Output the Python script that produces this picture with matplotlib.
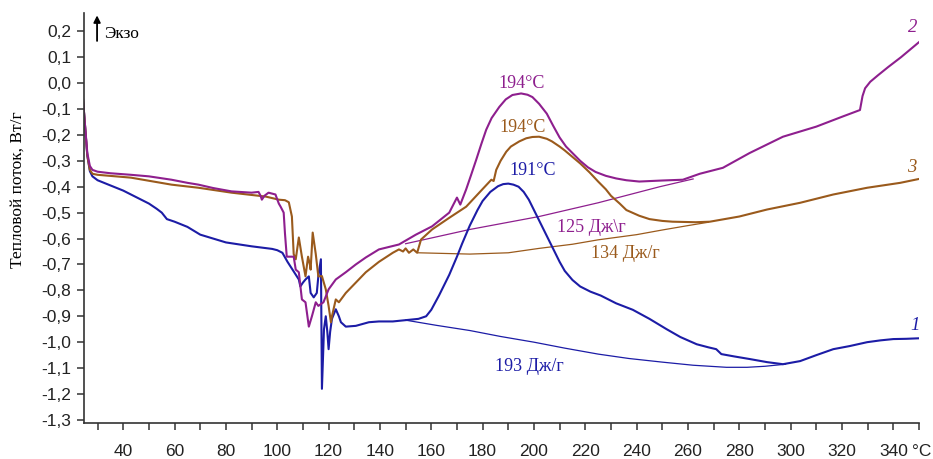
import matplotlib
matplotlib.use("Agg")
import matplotlib.pyplot as plt
from matplotlib.ticker import FixedLocator, FuncFormatter

# ---- data ----
T1 = [24, 25, 26, 27, 28, 30, 35, 40, 45, 50, 53, 55, 57, 60, 65, 70, 75, 80, 90, 98,
      100, 102, 104, 106.4, 108.4, 109, 110, 111, 112.3, 113, 114.2, 115.4, 116, 117, 117.4,
      118.2, 118.9, 119.5, 120, 120.6, 121.3, 122.8, 124, 124.8, 126.7, 130.6, 135.7, 139.6,
      145, 150, 155, 158, 160, 163, 165, 167, 170, 172, 175, 178, 180, 183, 186, 188, 190,
      192, 194, 196, 198, 200, 202, 204, 206, 208, 210, 212, 215, 218, 222, 226, 232, 238.5,
      245, 251.7, 257, 263.4, 268, 271, 273, 278, 284, 290.8, 297, 303.7, 310, 316.6, 323,
      329.8, 335, 340, 345, 350]
Q1 = [-0.02, -0.15, -0.28, -0.34, -0.36, -0.375, -0.395, -0.415, -0.44, -0.465, -0.485, -0.50,
      -0.525, -0.535, -0.555, -0.585, -0.60, -0.615, -0.63, -0.64,
      -0.645, -0.655, -0.69, -0.727, -0.758, -0.785, -0.77, -0.758, -0.746, -0.81, -0.827, -0.81,
      -0.746, -0.68, -1.18, -0.95, -0.90, -0.96, -1.027, -0.96, -0.91, -0.873, -0.90, -0.923,
      -0.94, -0.937, -0.923, -0.92, -0.92, -0.915, -0.91, -0.90, -0.875, -0.82, -0.78, -0.74,
      -0.67, -0.62, -0.55, -0.49, -0.455, -0.42, -0.398, -0.39, -0.388, -0.392, -0.40, -0.42,
      -0.45, -0.49, -0.53, -0.57, -0.61, -0.65, -0.69, -0.725, -0.76, -0.785, -0.805, -0.82,
      -0.85, -0.875, -0.91, -0.95, -0.98, -1.008, -1.02, -1.027, -1.046, -1.055, -1.065,
      -1.077, -1.085, -1.073, -1.05, -1.027, -1.015, -1.0, -0.993, -0.988, -0.987, -0.985]

T2 = [24, 25, 26, 27, 28, 30, 35, 43, 50, 58.8, 65, 69.3, 75, 82.2, 90, 92.7, 93.5, 94, 95,
      96.6, 99.3, 100.6, 101.3, 102.5, 103, 103.7, 106.4, 107.2, 108.4, 109.6, 111, 112.3,
      113.5, 115, 116, 118, 120, 122.8, 126.7, 130.6, 134.5, 139.6, 147.4, 154, 160.3, 167,
      170, 171.3, 173.6, 175.5, 177.5, 179.5, 181.4, 183.5, 186.5, 189, 191.6, 195, 197.5,
      199.4, 202, 205, 207.5, 210, 212.5, 215, 218, 221, 224, 228, 232, 236, 241, 250, 258,
      264.6, 273.6, 284, 297, 310, 320, 327, 328, 329, 331, 334, 338, 343, 350]
Q2 = [-0.02, -0.15, -0.27, -0.32, -0.335, -0.342, -0.348, -0.354, -0.36, -0.373, -0.385,
      -0.392, -0.405, -0.418, -0.423, -0.42, -0.435, -0.45, -0.435, -0.423, -0.43, -0.465,
      -0.477, -0.50, -0.58, -0.67, -0.67, -0.72, -0.73, -0.835, -0.846, -0.94, -0.90, -0.846,
      -0.86, -0.846, -0.796, -0.758, -0.73, -0.70, -0.673, -0.642, -0.623, -0.585, -0.553,
      -0.50, -0.442, -0.469, -0.41, -0.355, -0.296, -0.235, -0.18, -0.135, -0.092, -0.063,
      -0.046, -0.04, -0.045, -0.054, -0.08, -0.118, -0.165, -0.21, -0.245, -0.27, -0.30,
      -0.325, -0.343, -0.358, -0.368, -0.375, -0.38, -0.376, -0.373, -0.35, -0.327, -0.27,
      -0.207, -0.168, -0.13, -0.104, -0.05, -0.02, 0.005, 0.03, 0.062, 0.10, 0.158]

T3 = [24, 25, 26, 27, 28, 30, 43, 50, 58.8, 69.3, 82.2, 95.5, 100.6, 103, 104.5, 105.7, 106.4,
      107.2, 108.4, 109.6, 111, 112, 112.7, 113, 113.8, 115, 116, 117.4, 118.9, 120, 120.9,
      121.3, 122.8, 124, 126.7, 130.6, 134.5, 139.6, 145, 147.4, 149, 150, 151.3, 153, 154.5,
      156, 160.3, 167, 173.6, 179.9, 183.4, 184.3, 185.3, 187, 189.2, 191, 194.3, 197, 199.4,
      202, 205, 207, 210, 212, 215, 218, 221.7, 225, 228, 230, 233.4, 236, 241, 245, 250, 254,
      263, 268.5, 280, 290.8, 303.7, 316.6, 329.8, 342.7, 350]
Q3 = [-0.02, -0.15, -0.28, -0.335, -0.35, -0.354, -0.365, -0.377, -0.392, -0.404, -0.423,
      -0.438, -0.45, -0.452, -0.46, -0.515, -0.66, -0.68, -0.596, -0.67, -0.746, -0.67, -0.70,
      -0.72, -0.577, -0.66, -0.746, -0.745, -0.796, -0.86, -0.923, -0.90, -0.835, -0.846, -0.81,
      -0.77, -0.73, -0.69, -0.655, -0.642, -0.65, -0.638, -0.655, -0.642, -0.655, -0.604,
      -0.565, -0.52, -0.477, -0.41, -0.373, -0.378, -0.335, -0.30, -0.265, -0.245, -0.225,
      -0.213, -0.208, -0.207, -0.215, -0.225, -0.245, -0.26, -0.285, -0.31, -0.345, -0.38,
      -0.41, -0.435, -0.465, -0.49, -0.512, -0.525, -0.532, -0.535, -0.537, -0.535, -0.515,
      -0.488, -0.462, -0.43, -0.404, -0.385, -0.37]

# integration baselines
B1_T = [150, 162, 175, 187, 200, 212, 225, 237, 250, 262, 275, 283, 290, 298]
B1_Q = [-0.915, -0.935, -0.955, -0.978, -1.0, -1.023, -1.046, -1.063, -1.077, -1.089,
        -1.097, -1.097, -1.093, -1.085]
B2_T = [150, 175, 202, 225, 249, 262]
B2_Q = [-0.62, -0.565, -0.515, -0.462, -0.40, -0.37]
B3_T = [155, 175, 190, 202, 215, 225, 240, 250, 260, 268]
B3_Q = [-0.655, -0.66, -0.655, -0.638, -0.622, -0.605, -0.585, -0.567, -0.55, -0.537]

x_major = list(range(40, 341, 20))
x_minor = list(range(30, 351, 10))
y_ticks = [round(-1.3 + 0.1 * i, 1) for i in range(16)]

C_BLUE = "#1c1ca6"
C_PURPLE = "#8e1f8e"
C_BROWN = "#9a5a1c"

plt.rcParams['font.family'] = ['Liberation Sans', 'DejaVu Sans']
SERIF = ['Liberation Serif', 'DejaVu Serif']

fig = plt.figure(figsize=(9.33, 4.59), dpi=100)
ax = fig.add_axes([0.090, 0.0784, 0.895, 0.893])

ax.plot(B1_T, B1_Q, color=C_BLUE, lw=0.9)
ax.plot(B2_T, B2_Q, color=C_PURPLE, lw=0.9)
ax.plot(B3_T, B3_Q, color=C_BROWN, lw=0.9)
ax.plot(T1, Q1, color=C_BLUE, lw=1.5)
ax.plot(T3, Q3, color=C_BROWN, lw=1.5)
ax.plot(T2, Q2, color=C_PURPLE, lw=1.5)

ax.set_xlim(24.7, 350)
ax.set_ylim(-1.312, 0.27)

ax.xaxis.set_major_locator(FixedLocator(x_major))
ax.xaxis.set_minor_locator(FixedLocator(x_minor))
ax.yaxis.set_major_locator(FixedLocator(y_ticks))
ax.yaxis.set_major_formatter(FuncFormatter(lambda v, p: f"{v:.1f}".replace('.', ',').replace('\u2212', '-')))
ax.xaxis.set_major_formatter(FuncFormatter(lambda v, p: f"{int(round(v))}"))
ax.tick_params(axis='both', which='both', direction='out', length=5, width=1.1,
               color='#333333', labelsize=12.5, labelcolor='#222222')
ax.tick_params(axis='x', which='major', pad=10)
ax.tick_params(axis='y', which='major', pad=4)

for s in ['top', 'right']:
    ax.spines[s].set_visible(False)
for s in ['left', 'bottom']:
    ax.spines[s].set_linewidth(1.2)
    ax.spines[s].set_color('#333333')

fig.text(0.988, 1 - 452 / 459, '°C', fontsize=12.5, color='#222222', ha='center', va='center')
fig.text(18 / 933, 1 - 190 / 459, 'Тепловой поток, Вт/г', rotation=90, fontsize=12.5,
         family=SERIF, ha='center', va='center')

ax.annotate('', xy=(29.8, 0.272), xytext=(29.8, 0.152),
            arrowprops=dict(arrowstyle='-|>', color='black', lw=1.3, mutation_scale=10),
            annotation_clip=False)
ax.text(32.5, 0.19, 'Экзо', fontsize=12.5, family=SERIF, ha='left', va='center')

ann = dict(fontsize=13, family=SERIF, ha='center', va='center')
ax.text(195.3, 0.0, '194°C', color=C_PURPLE, **ann)
ax.text(195.7, -0.17, '194°C', color=C_BROWN, **ann)
ax.text(199.6, -0.336, '191°C', color=C_BLUE, **ann)
ax.text(222.5, -0.556, '125 Дж\\г', color=C_PURPLE, **ann)
ax.text(235.5, -0.656, '134 Дж/г', color=C_BROWN, **ann)
ax.text(198.4, -1.095, '193 Дж/г', color=C_BLUE, **ann)

num = dict(fontsize=13.5, family=SERIF, style='italic', ha='center', va='center')
ax.text(348.5, -0.934, '1', color=C_BLUE, **num)
ax.text(347.6, 0.215, '2', color=C_PURPLE, **num)
ax.text(347.3, -0.325, '3', color=C_BROWN, **num)

fig.savefig('out.png', dpi=100)
